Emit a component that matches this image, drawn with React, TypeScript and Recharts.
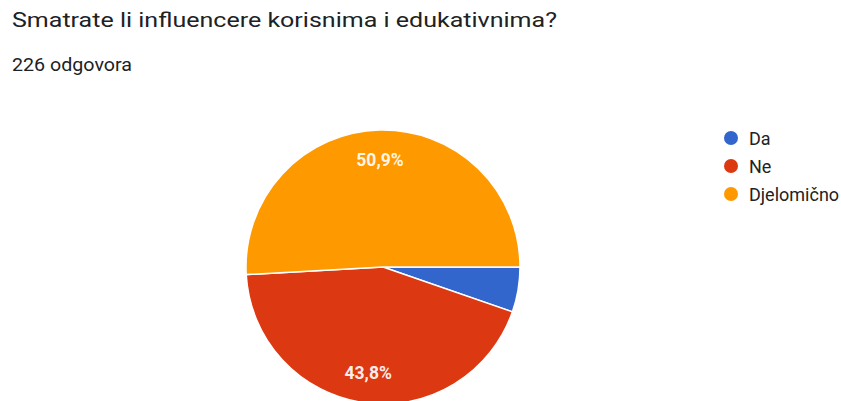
import React from "react";
import { PieChart, Pie, Cell, Legend } from "recharts";

const categories = ["Da", "Ne", "Djelomično"];
const counts = [12, 99, 115];
const colors = ["#3366cc", "#dc3912", "#ff9900"];
const title = "Smatrate li influencere korisnima i edukativnima?";
const subtitle = "226 odgovora";

const data = categories.map((name, i) => ({ name, value: counts[i], color: colors[i] }));

const RAD = Math.PI / 180;
const FONT = "Roboto, Arial, sans-serif";

const renderLabel = (props: any) => {
  const { cx, cy, midAngle, outerRadius, percent } = props;
  if (percent < 0.1) return null;
  const r = outerRadius * 0.78;
  const x = cx + r * Math.cos(-midAngle * RAD);
  const y = cy + r * Math.sin(-midAngle * RAD);
  return (
    <text
      x={x}
      y={y}
      fill="#ffffff"
      fillOpacity={0.92}
      textAnchor="middle"
      dominantBaseline="central"
      fontFamily={FONT}
      fontSize={17.5}
      fontWeight={700}
    >
      {(percent * 100).toFixed(1).replace(".", ",")}%
    </text>
  );
};

const LegendContent = () => (
  <svg width={130} height={90} style={{ overflow: "visible" }}>
    {data.map((d, i) => (
      <g key={d.name}>
        <circle cx={7} cy={9 + i * 28} r={7} fill={d.color} />
        <text x={25} y={15.5 + i * 28} fontFamily={FONT} fontSize={18} fill="#222">
          {d.name}
        </text>
      </g>
    ))}
  </svg>
);

export default function App() {
  return (
    <div style={{ position: "absolute", left: 0, top: 0, width: 841, height: 401, background: "#fff", overflow: "hidden" }}>
      <svg width={841} height={90} style={{ position: "absolute", left: 0, top: 0 }}>
        <text
          x={12}
          y={27}
          fontFamily={FONT}
          fontSize={21}
          fill="#202124"
          textLength={545}
          lengthAdjust="spacingAndGlyphs"
        >
          {title}
        </text>
        <text
          x={12}
          y={71}
          fontFamily={FONT}
          fontSize={17.5}
          fill="#202124"
          textLength={120}
          lengthAdjust="spacingAndGlyphs"
        >
          {subtitle}
        </text>
      </svg>
      <div style={{ position: "absolute", left: 0, top: 0 }}>
        <PieChart width={841} height={401} margin={{ top: 0, right: 0, bottom: 0, left: 0 }}>
          <Pie
            data={data}
            dataKey="value"
            nameKey="name"
            cx={383}
            cy={267}
            outerRadius={137}
            startAngle={0}
            endAngle={-360}
            stroke="#ffffff"
            strokeWidth={1.5}
            label={renderLabel}
            labelLine={false}
            isAnimationActive={false}
          >
            {data.map((d) => (
              <Cell key={d.name} fill={d.color} />
            ))}
          </Pie>
          <Legend
            content={<LegendContent />}
            layout="vertical"
            wrapperStyle={{ position: "absolute", left: 724, top: 129, width: 130, height: 90 }}
          />
        </PieChart>
      </div>
    </div>
  );
}
